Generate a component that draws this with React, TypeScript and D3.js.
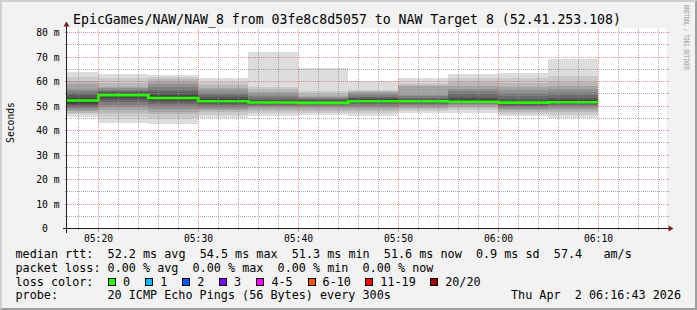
import React from "react";
import * as d3 from "d3";

// ---------------- data ----------------
const titleText = "EpicGames/NAW/NAW_8 from 03fe8c8d5057 to NAW Target 8 (52.41.253.108)";
const intervalEnds = ["05:20", "05:25", "05:30", "05:35", "05:40", "05:45", "05:50", "05:55", "06:00", "06:05", "06:10"];
const medians = [52.3, 54.5, 53.3, 52.0, 51.5, 51.3, 52.0, 52.0, 51.8, 51.4, 51.6];
// 20 sorted ping rtts (ms) per interval
const pings: number[][] = [
  [45.4, 46.6, 47.3, 48.0, 48.6, 49.2, 49.7, 50.3, 50.8, 51.8, 52.7, 53.5, 54.5, 55.2, 56.0, 56.8, 58.9, 60.4, 62.0, 64.1],
  [43.2, 45.6, 47.0, 48.3, 49.5, 50.5, 51.6, 52.6, 53.5, 54.2, 54.9, 55.2, 55.6, 56.0, 56.6, 57.3, 57.9, 59.6, 61.6, 63.2],
  [42.6, 45.1, 46.7, 47.7, 48.8, 50.1, 51.0, 51.6, 52.3, 53.0, 53.6, 54.7, 55.7, 56.6, 57.7, 58.9, 60.0, 61.2, 62.0, 62.8],
  [45.0, 46.5, 47.5, 48.3, 49.0, 49.8, 50.5, 51.0, 51.4, 51.7, 52.3, 53.0, 53.8, 54.6, 55.5, 56.5, 57.5, 58.7, 59.8, 61.3],
  [46.0, 47.2, 48.2, 49.0, 49.6, 50.1, 50.5, 50.9, 51.2, 51.4, 51.6, 52.0, 52.6, 53.3, 54.0, 54.9, 55.8, 56.9, 57.9, 72.1],
  [46.3, 47.3, 48.2, 49.0, 49.6, 50.0, 50.4, 50.7, 51.0, 51.2, 51.4, 51.8, 52.3, 52.8, 53.3, 53.8, 54.3, 54.9, 56.0, 65.6],
  [45.8, 47.0, 48.0, 48.8, 49.5, 50.2, 50.7, 51.1, 51.4, 51.8, 52.2, 52.7, 53.2, 53.8, 54.5, 55.2, 55.8, 56.2, 56.5, 60.1],
  [47.3, 48.0, 48.7, 49.4, 50.0, 50.5, 50.9, 51.2, 51.5, 51.8, 52.2, 52.6, 53.0, 53.5, 54.0, 54.5, 58.3, 58.8, 59.3, 61.5],
  [47.3, 48.3, 49.2, 49.9, 50.4, 50.8, 51.1, 51.3, 51.5, 51.7, 52.0, 52.8, 53.8, 54.9, 56.0, 57.0, 58.2, 60.0, 61.5, 63.1],
  [46.0, 46.8, 47.6, 48.3, 49.0, 49.6, 50.2, 50.6, 51.0, 51.2, 51.6, 52.2, 53.0, 54.0, 55.3, 56.6, 58.0, 59.6, 61.5, 63.7],
  [45.1, 46.4, 47.4, 48.4, 49.2, 49.9, 50.5, 51.0, 51.2, 51.4, 51.8, 52.6, 53.4, 54.4, 55.6, 56.8, 58.2, 59.7, 62.2, 69.2],
];
const yTickValues = [0, 10, 20, 30, 40, 50, 60, 70, 80];
const xTickLabels = ["05:20", "05:30", "05:40", "05:50", "06:00", "06:10"];
const lossLabels = ["0", "1", "2", "3", "4-5", "6-10", "11-19", "20/20"];
const lossColors = ["#26ff00", "#00b8ff", "#0059ff", "#7e00ff", "#ff00ff", "#ff5500", "#ff0000", "#a10000"];
const packetLoss = [0, 0, 0, 0]; // avg, max, min, now
const probeText = "20 ICMP Echo Pings (56 Bytes) every 300s";
const stampText = "Thu Apr  2 06:16:43 2026";
const yLabel = "Seconds";
const watermark = "RRDTOOL / TOBI OETIKER";

// ---------------- layout ----------------
const W = 697, H = 310;
const X0 = 66.5, X1 = 666.5, Y0 = 228.5, Y1 = 28.5;
const FONT = "'DejaVu Sans Mono', monospace";
const LEG_FS = 11.78;
const tm = (s: string, sec = 0) => {
  const [h, m] = s.split(":").map(Number);
  return new Date(2026, 3, 2, h, m, sec);
};
const tStart = tm("05:16", 49);
const tEnd = new Date(tStart.getTime() + 3600 * 1000);

const x = d3.scaleTime().domain([tStart, tEnd]).range([X0, X1]);
const y = d3.scaleLinear().domain([0, 81.7]).range([Y0, Y1]);
const snap = (v: number) => Math.round(v - 0.5) + 0.5;
const pre = (s: string) => s.replace(/ /g, "\u00a0");

const smokeColor = (i: number) => {
  const c = Math.floor((190 / 10) * (10 - i)) + 50;
  const h = c.toString(16).padStart(2, "0");
  return `#${h}${h}${h}`;
};

const GRID = "rgba(143,143,143,0.75)";
const MGRID = "rgba(222,79,79,0.6)";

export default function App() {
  const ends = intervalEnds.map((s) => tm(s));
  const starts = ends.map((e) => d3.timeMinute.offset(e, -5));

  // smoke layers
  const smoke: React.ReactNode[] = [];
  ends.forEach((e, k) => {
    const xa = Math.max(x(starts[k]), X0 + 0.5);
    const xb = x(e);
    const p = pings[k];
    for (let i = 1; i <= 10; i++) {
      const lo = p[i - 1];
      const hi = p[20 - i];
      smoke.push(
        <rect key={`s${k}-${i}`} x={xa} width={xb - xa} y={y(hi)} height={y(lo) - y(hi)} fill={smokeColor(i)} shapeRendering="crispEdges" />
      );
    }
  });

  // median line
  const medPts: [number, number][] = ends.map((e, k) => [Math.max(x(starts[k]), X0 + 0.5), y(medians[k])]);
  medPts.push([x(ends[ends.length - 1]), y(medians[medians.length - 1])]);
  const medPath = d3.line().curve(d3.curveStepAfter)(medPts) || "";

  // grids
  const minorX = x.ticks(d3.timeMinute.every(2) as any).filter((d) => d.getMinutes() % 10 !== 0);
  const majorX = x.ticks(d3.timeMinute.every(10) as any);
  const minorY = d3.range(5, 81, 10);
  const majorY = yTickValues.filter((v) => v > 0);

  // stats
  const avg = d3.mean(medians)!;
  const sd = d3.deviation(medians)! * Math.sqrt((medians.length - 1) / medians.length);
  const line1 =
    `median rtt:  ${avg.toFixed(1)} ms avg  ${d3.max(medians)!.toFixed(1)} ms max  ` +
    `${d3.min(medians)!.toFixed(1)} ms min  ${medians[medians.length - 1].toFixed(1)} ms now  ` +
    `${sd.toFixed(1)} ms sd  ${(avg / sd).toFixed(1)}   am/s`;
  const line2 =
    `packet loss: ${packetLoss[0].toFixed(2)} % avg  ${packetLoss[1].toFixed(2)} % max  ` +
    `${packetLoss[2].toFixed(2)} % min  ${packetLoss[3].toFixed(2)} % now`;
  const boxX = [108, 145.3, 182.2, 219.1, 256.4, 307.6, 365.3, 430.2];

  return (
    <svg width={W} height={H} style={{ position: "absolute", left: 0, top: 0, display: "block" }} fontFamily={FONT}>
      {/* background + shades */}
      <rect x={0} y={0} width={W} height={H} fill="#f2f2f2" />
      <polygon points={`0,0 ${W},0 ${W - 2},2 2,2 2,${H - 2} 0,${H}`} fill="#cfcfcf" />
      <polygon points={`${W},0 ${W},${H} 0,${H} 2,${H - 2} ${W - 2},${H - 2} ${W - 2},2`} fill="#9e9e9e" />
      {/* canvas */}
      <rect x={X0} y={Y1} width={X1 - X0} height={Y0 - Y1} fill="#ffffff" />
      {smoke}
      <path d={medPath} fill="none" stroke={lossColors[0]} strokeWidth={2.6} />
      {/* grids */}
      <g strokeDasharray="1,1" strokeWidth={1} shapeRendering="crispEdges">
        {minorY.map((v) => (
          <line key={`gy${v}`} x1={X0} x2={X1} y1={snap(y(v))} y2={snap(y(v))} stroke={GRID} />
        ))}
        {minorX.map((d) => (
          <line key={`gx${+d}`} x1={snap(x(d))} x2={snap(x(d))} y1={Y1} y2={Y0} stroke={GRID} />
        ))}
        {majorY.map((v) => (
          <line key={`my${v}`} x1={X0} x2={X1} y1={snap(y(v))} y2={snap(y(v))} stroke={MGRID} />
        ))}
        {majorX.map((d) => (
          <line key={`mx${+d}`} x1={snap(x(d))} x2={snap(x(d))} y1={Y1} y2={Y0} stroke={MGRID} />
        ))}
      </g>
      {/* ticks */}
      <g strokeWidth={1} shapeRendering="crispEdges">
        {minorY.map((v) => (
          <g key={`ty${v}`} stroke={GRID}>
            <line x1={X0 - 2} x2={X0} y1={snap(y(v))} y2={snap(y(v))} />
            <line x1={X1} x2={X1 + 2} y1={snap(y(v))} y2={snap(y(v))} />
          </g>
        ))}
        {majorY.map((v) => (
          <g key={`tmy${v}`} stroke={MGRID}>
            <line x1={X0 - 2} x2={X0} y1={snap(y(v))} y2={snap(y(v))} />
            <line x1={X1} x2={X1 + 2} y1={snap(y(v))} y2={snap(y(v))} />
          </g>
        ))}
        {minorX.map((d) => (
          <line key={`tx${+d}`} x1={snap(x(d))} x2={snap(x(d))} y1={Y0 - 1} y2={Y0 + 1} stroke={GRID} />
        ))}
        {majorX.map((d) => (
          <line key={`tmx${+d}`} x1={snap(x(d))} x2={snap(x(d))} y1={Y0 - 2} y2={Y0 + 3} stroke={MGRID} />
        ))}
      </g>
      {/* axes */}
      <g stroke="#1f1f1f" strokeWidth={1} shapeRendering="crispEdges">
        <line x1={X0 - 4} x2={X1 + 4} y1={Y0} y2={Y0} />
        <line x1={X0} x2={X0} y1={Y0 + 4} y2={Y1 - 4} />
      </g>
      <polygon points={`${X1 + 2},${Y0 - 3} ${X1 + 2},${Y0 + 3} ${X1 + 7},${Y0}`} fill="#801f1f" />
      <polygon points={`${X0 - 3},${Y1 - 2} ${X0 + 3},${Y1 - 2} ${X0},${Y1 - 7}`} fill="#801f1f" />
      {/* y tick labels */}
      <g fontSize={9.7} fill="#000" textAnchor="end">
        {yTickValues.map((v) => (
          <text key={`yl${v}`} x={v === 0 ? 59.5 - 11.7 : 59.5} y={snap(y(v)) + 3.5}>
            {v === 0 ? "0" : pre(`${v} m`)}
          </text>
        ))}
      </g>
      {/* x tick labels */}
      <g fontSize={9.7} fill="#000" textAnchor="middle">
        {xTickLabels.map((s) => (
          <text key={`xl${s}`} x={snap(x(tm(s)))} y={241.7}>
            {s}
          </text>
        ))}
      </g>
      {/* y axis label */}
      <text x={14} y={122.5} fontSize={9.7} textAnchor="middle" transform="rotate(-90 14 122.5)">
        {yLabel}
      </text>
      {/* title */}
      <text x={347} y={24} fontSize={13.2} textAnchor="middle" fill="#000">
        {titleText}
      </text>
      {/* watermark */}
      <text x={683.5} y={5} fontSize={7.2} fill="#9a9a9a" transform="rotate(90 683.5 5)" textLength={65} lengthAdjust="spacingAndGlyphs">
        {pre(watermark)}
      </text>
      {/* legend */}
      <g fontSize={LEG_FS} fill="#000">
        <text x={15.5} y={258.3}>{pre(line1)}</text>
        <text x={15.5} y={271.8}>{pre(line2)}</text>
        <text x={15.5} y={285.6}>{pre("loss color:")}</text>
        {lossLabels.map((l, i) => (
          <g key={`lc${i}`}>
            <rect x={boxX[i] + 0.5} y={278.5} width={7} height={7} fill={lossColors[i]} stroke="#000" strokeWidth={1} shapeRendering="crispEdges" />
            <text x={boxX[i] + 15} y={285.6}>{l}</text>
          </g>
        ))}
        <text x={15.5} y={299.3}>probe:</text>
        <text x={107.5} y={299.3}>{pre(probeText)}</text>
        <text x={681} y={299.3} textAnchor="end">{pre(stampText)}</text>
      </g>
    </svg>
  );
}
